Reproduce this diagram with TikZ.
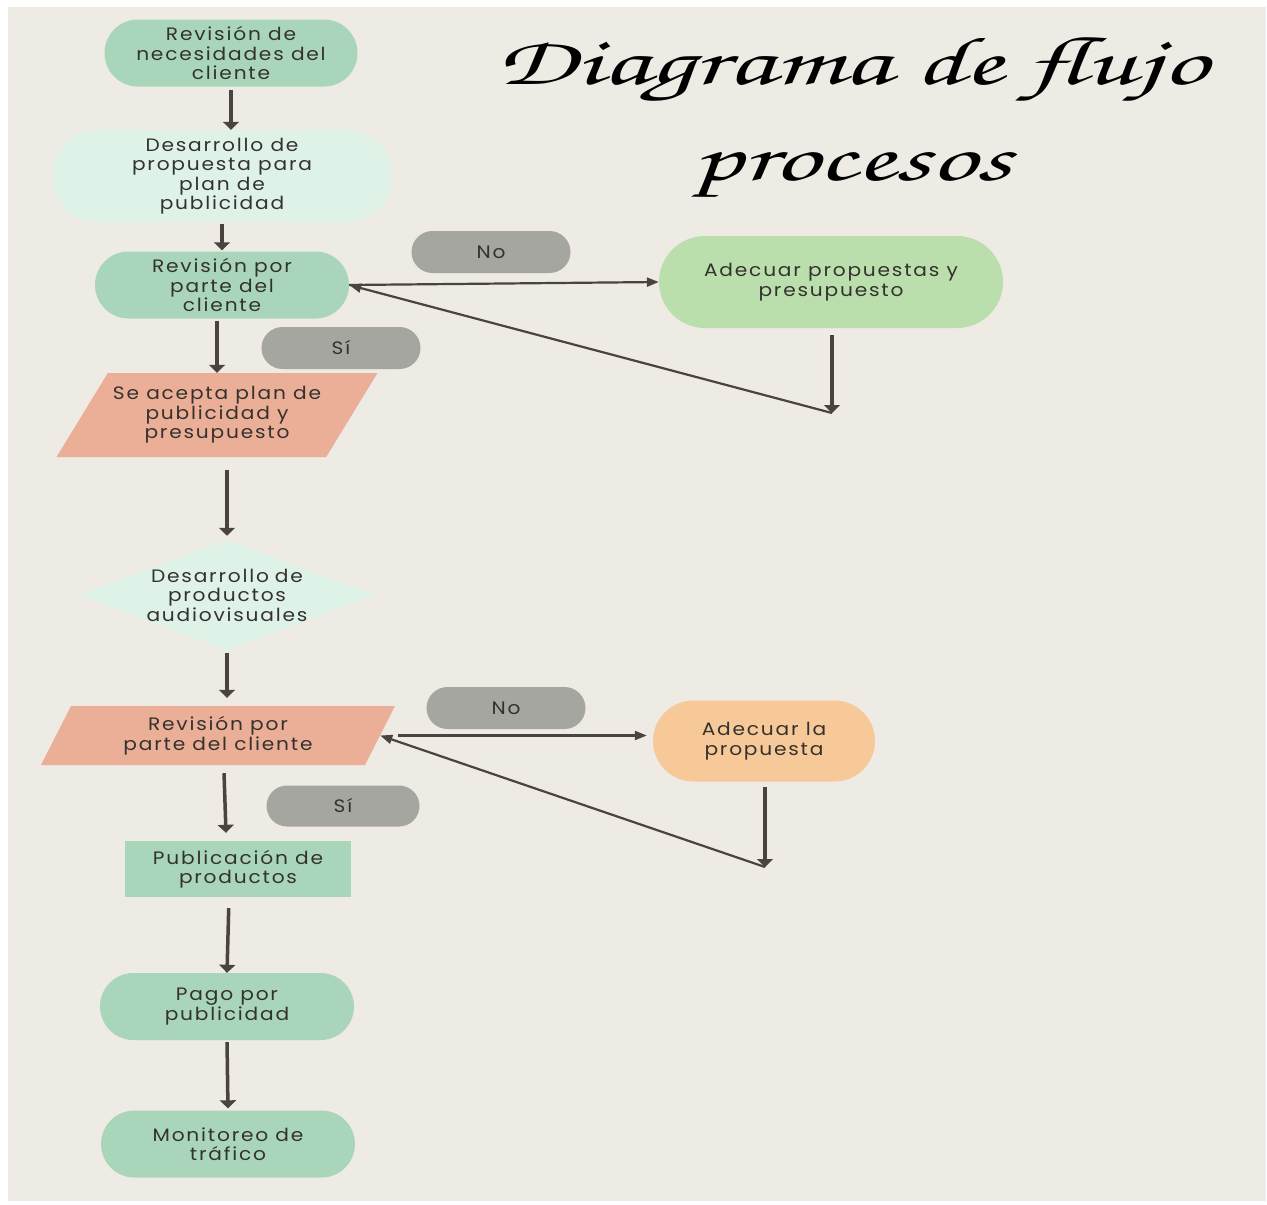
\documentclass[tikz,border=0pt]{standalone}
\usepackage{fontspec}
\usepackage{graphicx}
\newfontfamily\boxfont[FakeStretch=1.12,LetterSpace=10]{Poppins}
\newfontfamily\titlefont{TeX Gyre Chorus}
\usepackage{xcolor}
\definecolor{paper}{RGB}{238,234,228}
\definecolor{mint}{RGB}{169,214,187}
\definecolor{palemint}{RGB}{222,242,232}
\definecolor{leafgreen}{RGB}{187,223,172}
\definecolor{salmon}{RGB}{235,175,152}
\definecolor{peach}{RGB}{248,201,152}
\definecolor{pillgray}{RGB}{166,166,161}
\definecolor{arrowgray}{RGB}{74,68,65}
\definecolor{textgray}{RGB}{52,50,47}
\usepackage{tikz}
\usetikzlibrary{arrows.meta,positioning,shapes.geometric,shapes.misc}
\tikzset{
  pill/.style={rounded rectangle,fill=mint,inner sep=0pt,align=center,minimum width=254pt,minimum height=67pt},
  tag/.style={rounded rectangle,fill=pillgray,inner sep=0pt,minimum width=159pt,minimum height=42pt},
  slanted/.style={trapezium,trapezium stretches body,fill=salmon,inner xsep=-25pt,inner ysep=0pt,align=center},
  decision/.style={diamond,fill=palemint,aspect=2.69,inner xsep=-5pt,inner ysep=0pt,text width=165pt,align=center},
  card/.style={rectangle,fill=mint,inner sep=0pt,align=center,minimum width=226pt,minimum height=56pt},
  flow/.style={-{Triangle[length=8pt,width=16pt]},line width=3.5pt,draw=arrowgray},
  loop/.style={-{Triangle[length=12pt,width=9pt]},line width=2.2pt,draw=arrowgray}
}
\newcommand{\wide}[1]{\scalebox{1.65}[1]{#1}}

\begin{document}
\begin{tikzpicture}[x=1pt,y=-1pt,font=\boxfont\fontsize{18}{19.5}\selectfont,text=textgray]
  \useasboundingbox (0,0) rectangle (1267,1205);
  \fill[white] (0,0) rectangle (1267,1205);
  \fill[paper] (8,7) rectangle (1266,1201);

  % Title
  \node[font=\titlefont\fontsize{68}{96}\selectfont,align=center,text=black] (title) at (852,118) {\wide{Diagrama de flujo}\\\wide{procesos}};

  % First stage
  \node[pill,minimum width=253pt] (needs) at (231,53) {Revisión de\\necesidades del\\cliente};
  \node[pill,fill=palemint,minimum width=341pt,minimum height=92pt] (proposal) at (222,176) {Desarrollo de\\propuesta para\\plan de\\publicidad};
  \node[pill] (review) at (222,285) {Revisión por\\parte del\\cliente};
  \node[tag] (no1) at (491,252) {No};
  \node[pill,fill=leafgreen,minimum width=344pt,minimum height=92pt] (adjust) at (831,282) {Adecuar propuestas y\\presupuesto};
  \node[tag] (yes1) at (341,348) {Sí};
  \node[slanted,trapezium left angle=48,trapezium right angle=132,minimum width=321pt,minimum height=84pt] (accept) at (217,415) {Se acepta plan de\\publicidad y\\presupuesto};
  \coordinate (ret1) at (832,413);

  % Second stage
  \node[decision] (develop) at (227,595) {Desarrollo de\\productos\\audiovisuales};
  \node[slanted,trapezium left angle=52,trapezium right angle=128,minimum width=354pt,minimum height=59pt] (check) at (218,735.5) {Revisión por\\parte del cliente};
  \node[tag] (no2) at (506,708) {No};
  \node[pill,fill=peach,minimum width=222pt,minimum height=81pt] (redo) at (764,741) {Adecuar la\\propuesta};
  \node[tag,minimum width=153pt,minimum height=41pt] (yes2) at (343,806) {Sí};
  \coordinate (ret2) at (765,867);
  \node[card] (publish) at (238,869) {Publicación de\\productos};
  \node[pill] (payment) at (227,1006.5) {Pago por\\publicidad};
  \node[pill] (monitor) at (228,1144) {Monitoreo de\\tráfico};

  % Main flow
  \draw[flow,shorten <=3pt] (needs.south) -- (needs.south |- proposal.north);
  \draw[flow,shorten <=2pt,shorten >=1pt] (proposal.south) -- (review.north);
  \draw[flow,shorten <=2pt] (accept.north |- review.south) -- (accept.north);
  \draw[flow,shorten <=13pt,shorten >=4pt] (develop.north |- accept.south) -- (develop.north);
  \draw[flow,shorten <=3pt,shorten >=8pt] (develop.south) -- (develop.south |- check.north);
  \draw[flow] ([xshift=6pt,yshift=-8pt]check.south) -- ([xshift=-12pt,yshift=8pt]publish.north);
  \draw[flow,shorten <=11pt] ([xshift=-9pt]publish.south) -- (payment.north);
  \draw[flow,shorten <=2pt,shorten >=2pt] (payment.south) -- (monitor.north);

  % Loops back
  \draw[loop] (review.east) -- (adjust.west);
  \draw[flow,shorten <=7pt] (adjust.south -| ret1) -- (ret1);
  \draw[loop] (ret1) -- (review.east);
  \draw[loop,shorten <=18pt,shorten >=6pt] (check.east) -- (check.east -| redo.west);
  \draw[flow,shorten <=5pt] (redo.south -| ret2) -- (ret2);
  \draw[loop] (ret2) -- (check.east);
\end{tikzpicture}
\end{document}
